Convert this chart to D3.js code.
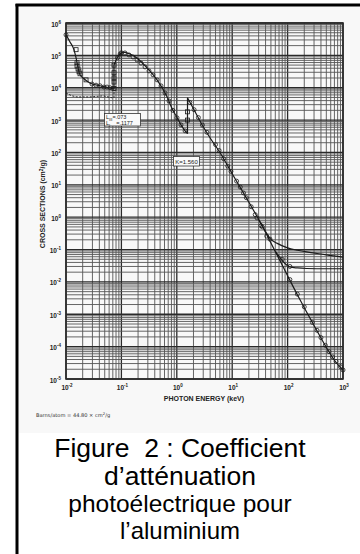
<!DOCTYPE html>
<html><head><meta charset="utf-8">
<script src="https://cdn.jsdelivr.net/npm/d3@7"></script>
<style>body{margin:0;background:#fff}svg{display:block}</style>
</head><body>
<svg id="c" width="360" height="554"></svg>
<script>
// ---- data (energy keV, cross section cm2/g) ----
const mainE = [0.01,0.0118,0.0139,0.0152,0.0165,0.0179,0.0211,0.0271,0.041,0.0622,0.0735,
  0.0735,0.0834,0.0944,0.107,0.143,0.19,0.29,0.44,0.67,0.85,1.0,1.19,1.41,1.56,
  1.56,2,3,4,6,10,20,31.7,50,100,150,200,300,500,700,1000];
const mainS = [4.3e5,2.6e5,1.5e5,8.3e4,4.1e4,2.5e4,1.9e4,1.4e4,1.15e4,9.8e3,9.1e3,
  5e4,8.3e4,1.1e5,1.26e5,1.1e5,8.3e4,4.1e4,1.75e4,5.2e3,2.0e3,1.25e3,711,465,380,
  4900,2250,620,280,100,22,2.9,0.72,0.16,0.0155,0.0040,0.0016,4.5e-4,9.5e-5,3.8e-5,1.9e-5];
const dashE = [0.01,0.0128,0.0158,0.027,0.0466,0.0677,0.0735,0.0735];
const dashS = [6900,5600,5200,5200,5600,4900,4900,8500];
const upperE = [30,38,48,65,97,150,290,500,1000];
const upperS = [0.85,0.42,0.22,0.155,0.115,0.095,0.079,0.068,0.058];
const lowerE = [60,70,81,95,110,150,220,500,1000];
const lowerS = [0.088,0.062,0.045,0.034,0.029,0.027,0.026,0.0255,0.0255];
const squareE = [0.0152,0.0158,0.0158,0.0165,0.0172,0.0179,0.023,0.0735,0.0735,0.0735,0.0735,0.0735,1.56,1.56];
const squareS = [1.5e5,5.9e4,4.7e4,3.8e4,3.1e4,2.7e4,1.75e4,9.5e3,1.5e4,2e4,2.9e4,5e4,1800,1000];
const circleE = [0.01,0.0295,0.0348,0.041,0.0485,0.055,0.0622,0.085,0.095,0.1,0.116,0.137,0.162,0.191,0.226,0.267,0.315,0.372,0.44,0.519,0.612,0.723,0.85,1.01,1.19,1.41,
  1.72,2.05,2.45,2.9,3.5,5.0,5.8,7.0,8.3,9.5,12,14,16,18,22,26,28,35,42,
  110,150,200,280,340,400,480,560,650,750,900,1000, 33,48,80,110];
const circleS = [4.3e5,1.3e4,1.2e4,1.15e4,1.05e4,1.05e4,1.0e4,8.5e4,1.1e5,1.2e5,1.19e5,1.03e5,8.9e4,7.2e4,5.8e4,4.4e4,3.3e4,2.5e4,1.75e4,1.14e4,6.9e3,3.9e3,2.0e3,1.17e3,711,465,
  3500,2100,1200,700,420,175,115,64,38,26,13,8.5,5.6,4.0,2.1,1.2,0.95,0.5,0.26,
  0.0118,0.0042,0.0017,5.6e-4,3.2e-4,1.9e-4,1.1e-4,7e-5,4.8e-5,3.5e-5,2.4e-5,1.9e-5, 0.55,0.21,0.05,0.03];
const xTickExp = [-2,-1,0,1,2,3];
const yTickExp = [6,5,4,3,2,1,0,-1,-2,-3,-4,-5];
const captionLines = ["Figure  2 : Coefficient","d\u2019atténuation","photoélectrique pour","l\u2019aluminium"];

// ---- drawing ----
const svg = d3.select('#c');
const L=66, R=343, T=23, B=379;
const x = d3.scaleLog().domain([0.01,1000]).range([L,R]);
const y = d3.scaleLog().domain([1e-5,1e6]).range([B,T]);

// frame
svg.append('rect').attr('x',19).attr('y',7).attr('width',341).attr('height',426).attr('fill','#f8f8f8');
svg.append('line').attr('x1',17).attr('x2',17).attr('y1',4).attr('y2',554).attr('stroke','#000').attr('stroke-width',3);
svg.append('line').attr('x1',15.5).attr('x2',360).attr('y1',5).attr('y2',5).attr('stroke','#000').attr('stroke-width',3);

// grid
const g = svg.append('g');
const isMajor = v => Math.abs(Math.log10(v) - Math.round(Math.log10(v))) < 1e-6;
x.ticks(30).forEach(v=>{
  g.append('line').attr('x1',x(v)).attr('x2',x(v)).attr('y1',T).attr('y2',B)
   .attr('stroke', isMajor(v)?'#2a2a2a':'#555').attr('stroke-width', isMajor(v)?1.3:0.9);
});
y.ticks(30).forEach(v=>{
  g.append('line').attr('x1',L).attr('x2',R).attr('y1',y(v)).attr('y2',y(v))
   .attr('stroke', isMajor(v)?'#2a2a2a':'#555').attr('stroke-width', isMajor(v)?1.3:0.9);
});
g.append('rect').attr('x',L).attr('y',T).attr('width',R-L).attr('height',B-T)
 .attr('fill','none').attr('stroke','#2a2a2a').attr('stroke-width',1.6);

// tick labels
function pow(sel, e){
  sel.append('tspan').text('10');
  sel.append('tspan').attr('dy',-3).attr('font-size',4.5).text(e);
}
yTickExp.forEach(e=>{
  const t = svg.append('text').attr('x',61).attr('y',y(Math.pow(10,e))+3.5)
    .attr('text-anchor','end').attr('font-family','Liberation Sans, Arial').attr('font-weight','bold')
    .attr('font-size',6.5).attr('fill','#222');
  pow(t,e);
});
xTickExp.forEach(e=>{
  const t = svg.append('text').attr('x',x(Math.pow(10,e))+1).attr('y',390)
    .attr('text-anchor','middle').attr('font-family','Liberation Sans, Arial').attr('font-weight','bold')
    .attr('font-size',6.5).attr('fill','#222');
  pow(t,e);
});

// axis titles
const yt = svg.append('text').attr('transform','translate(45,204) rotate(-90)')
  .attr('text-anchor','middle').attr('font-family','Liberation Sans, Arial').attr('font-weight','bold')
  .attr('font-size',7).attr('fill','#222');
yt.append('tspan').text('CROSS SECTIONS (cm');
yt.append('tspan').attr('dy',-2.5).attr('font-size',5).text('2');
yt.append('tspan').attr('dy',2.5).text('/g)');
svg.append('text').attr('x',204).attr('y',401).attr('text-anchor','middle')
  .attr('font-family','Liberation Sans, Arial').attr('font-weight','bold').attr('font-size',7).attr('fill','#222')
  .text('PHOTON ENERGY (keV)');
const bt = svg.append('text').attr('x',36).attr('y',417)
  .attr('font-family','DejaVu Sans, sans-serif').attr('font-size',5.1).attr('fill','#333');
bt.append('tspan').text('Barns/atom = 44.80 \u00d7 cm');
bt.append('tspan').attr('dy',-2).attr('font-size',3.8).text('2');
bt.append('tspan').attr('dy',2).text('/g');

// curves
const pts = (E,S)=>E.map((e,i)=>[e,S[i]]);
function segments(p){
  const segs=[[p[0]]];
  for(let i=1;i<p.length;i++){
    if(p[i][0]===p[i-1][0]){ segs.push([p[i-1],p[i]]); segs.push([p[i]]); }
    else segs[segs.length-1].push(p[i]);
  }
  return segs;
}
const line = d3.line().x(d=>x(d[0])).y(d=>y(d[1])).curve(d3.curveMonotoneX);
const lineLin = d3.line().x(d=>x(d[0])).y(d=>y(d[1]));
const cg = svg.append('g').attr('fill','none').attr('stroke','#1a1a1a').attr('stroke-width',1.2);
segments(pts(mainE,mainS)).forEach(s=>{
  const vertical = s.length===2 && s[0][0]===s[1][0];
  cg.append('path').attr('d', vertical? lineLin(s) : line(s));
});
segments(pts(dashE,dashS)).forEach(s=>{
  cg.append('path').attr('d', lineLin(s)).attr('stroke-dasharray','2,1.5').attr('stroke-width',0.9);
});
cg.append('path').attr('d', line(pts(upperE,upperS)));
cg.append('path').attr('d', line(pts(lowerE,lowerS)));

// markers
const mg = svg.append('g').attr('fill','none').attr('stroke','#1a1a1a').attr('stroke-width',0.8);
pts(circleE,circleS).forEach(d=>{
  mg.append('circle').attr('cx',x(d[0])).attr('cy',y(d[1])).attr('r',2);
});
pts(squareE,squareS).forEach(d=>{
  mg.append('rect').attr('x',x(d[0])-2).attr('y',y(d[1])-2).attr('width',4).attr('height',4);
});

// annotation boxes
const ab = svg.append('g').attr('font-family','Liberation Sans, Arial').attr('fill','#222');
ab.append('rect').attr('x',104.5).attr('y',113.5).attr('width',36).attr('height',12.5)
  .attr('fill','#fafafa').attr('stroke','#333').attr('stroke-width',0.8);
let t1 = ab.append('text').attr('x',106).attr('y',119).attr('font-size',5.5);
t1.append('tspan').text('L'); t1.append('tspan').attr('dy',1.5).attr('font-size',4).text('III');
t1.append('tspan').attr('dy',-1.5).text('=.073');
let t2 = ab.append('text').attr('x',106).attr('y',125).attr('font-size',5.5).style('white-space','pre');
t2.append('tspan').text('L'); t2.append('tspan').attr('dy',1.5).attr('font-size',4).text('I');
t2.append('tspan').attr('dy',-1.5).text('    =.1177');
ab.append('rect').attr('x',173.5).attr('y',156.5).attr('width',26).attr('height',9.5)
  .attr('fill','#fafafa').attr('stroke','#333').attr('stroke-width',0.8);
ab.append('text').attr('x',186.5).attr('y',163.6).attr('text-anchor','middle').attr('font-size',6).text('K=1.560');

// caption
const capSize = [26.5,26.5,24.5,24];
const capBase = [457,484.5,511.5,538.5];
captionLines.forEach((s,i)=>{
  svg.append('text').attr('x',180).attr('y',capBase[i]).attr('text-anchor','middle').style('white-space','pre')
    .attr('font-family','Liberation Sans, Arial').attr('font-size',capSize[i]).attr('fill','#000').text(s);
});
</script>
</body></html>
